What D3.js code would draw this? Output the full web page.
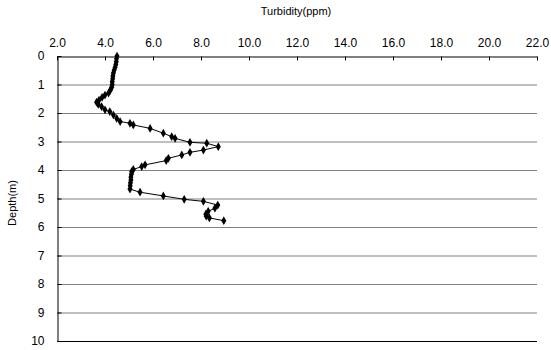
<!DOCTYPE html>
<html><head><meta charset="utf-8">
<script src="https://cdn.jsdelivr.net/npm/d3@7"></script>
<style>body{margin:0;background:#fff}svg{display:block}text{font-family:"Liberation Sans",Arial,sans-serif;fill:#000}</style>
</head><body><svg id="c" width="551" height="350"></svg>
<script>
const depths = [0.00,0.10,0.20,0.30,0.40,0.50,0.60,0.70,0.80,0.90,1.00,1.10,1.20,1.30,1.37,1.45,1.55,1.62,1.70,1.78,1.89,1.95,2.07,2.19,2.30,2.36,2.42,2.54,2.71,2.83,2.89,3.03,3.06,3.18,3.30,3.38,3.47,3.59,3.67,3.82,3.88,3.98,4.06,4.15,4.25,4.35,4.45,4.55,4.67,4.78,4.91,5.03,5.10,5.23,5.34,5.45,5.55,5.62,5.68,5.78];
const turbidity = [4.50,4.48,4.47,4.45,4.42,4.38,4.35,4.33,4.32,4.30,4.30,4.28,4.22,4.15,4.00,3.88,3.75,3.65,3.72,3.86,4.00,4.20,4.35,4.49,4.63,5.04,5.18,5.88,6.43,6.78,6.92,7.54,8.24,8.72,8.10,7.54,7.20,6.64,6.55,5.67,5.53,5.18,5.11,5.10,5.08,5.08,5.06,5.05,5.04,5.46,6.43,7.30,8.10,8.70,8.58,8.30,8.20,8.22,8.35,8.95];
const xTicks = [2,4,6,8,10,12,14,16,18,20,22];
const yTicks = [0,1,2,3,4,5,6,7,8,9,10];
const xTitle = "Turbidity(ppm)";
const yTitle = "Depth(m)";

const svg = d3.select("#c");
const L=57,R=537,T=56,B=341;
const x = d3.scaleLinear().domain([2,22]).range([L,R]);
const y = d3.scaleLinear().domain([0,10]).range([T,B]);

// gridlines
svg.append("g").selectAll("line").data(yTicks.filter(d=>d>0)).join("line")
  .attr("x1",L).attr("x2",R).attr("y1",d=>y(d)+0.5).attr("y2",d=>y(d)+0.5)
  .attr("stroke",d=>d===10?"#000":"#808080").attr("stroke-width",1);

// top axis
const xa = svg.append("g").attr("transform",`translate(0,${T+0.5})`)
  .call(d3.axisTop(x).tickValues(xTicks).tickFormat(d3.format(".1f")).tickSizeInner(-4).tickSizeOuter(0).tickPadding(10));
xa.select(".domain").attr("stroke","#000");
xa.selectAll(".tick line").attr("stroke","#000");
xa.selectAll("text").attr("font-size",12).attr("dy","0");

// left axis
const ya = svg.append("g").attr("transform",`translate(${L+0.5},0)`)
  .call(d3.axisLeft(y).tickValues(yTicks).tickSizeInner(-4).tickSizeOuter(0).tickPadding(13));
ya.select(".domain").attr("stroke","#000");
ya.selectAll(".tick line").attr("stroke","#000");
ya.selectAll("text").attr("font-size",12);

// titles
svg.append("text").attr("x",296).attr("y",15).attr("text-anchor","middle").attr("font-size",11).text(xTitle);
svg.append("text").attr("transform","translate(16,203) rotate(-90)").attr("text-anchor","middle").attr("font-size",11).text(yTitle);

const pts = depths.map((d,i)=>({d, v:turbidity[i]}));
svg.append("path").datum(pts)
  .attr("d",d3.line().x(p=>x(p.v)).y(p=>y(p.d)))
  .attr("fill","none").attr("stroke","#000").attr("stroke-width",1);
svg.append("g").selectAll("path").data(pts).join("path")
  .attr("transform",p=>`translate(${x(p.v)},${y(p.d)})`)
  .attr("d",d3.symbol(d3.symbolDiamond,22)).attr("fill","#000");
</script></body></html>
